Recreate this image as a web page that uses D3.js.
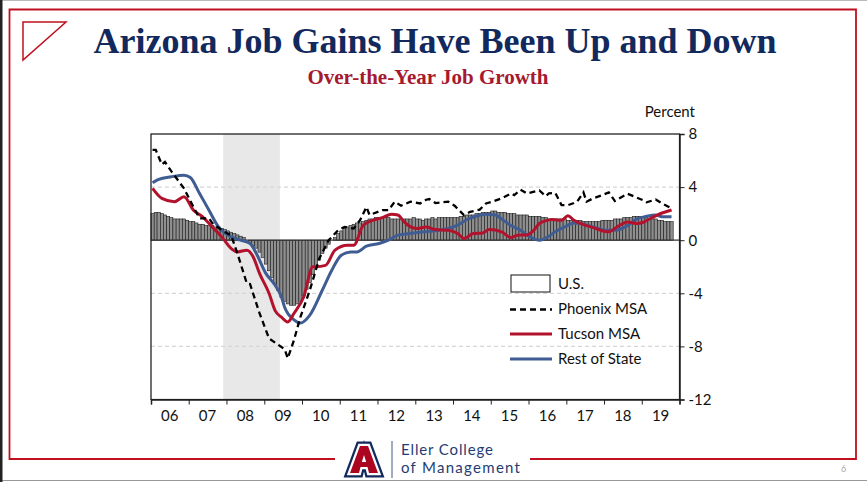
<!DOCTYPE html>
<html>
<head>
<meta charset="utf-8">
<title>Arizona Job Gains Have Been Up and Down</title>
<script src="https://cdn.jsdelivr.net/npm/d3@7"></script>
<style>
  body { margin: 0; background: #fff; }
  svg { display: block; }
  .axis text { font-family: Lato, "Open Sans", sans-serif; font-size: 15px; fill: #111; }
  .axis path, .axis line { stroke: #222; }
</style>
</head>
<body>
<svg id="chart" width="867" height="482"></svg>
<script>
// ---- data (over-the-year % job growth) ----
var firstMonth = "2006-01";
// U.S., monthly Jan 2006 - Oct 2019
var usGrowth = [
  2.0, 2.1, 2.1, 2.0, 1.9, 1.8, 1.7, 1.6, 1.6, 1.6, 1.6, 1.5,        // 2006
  1.4, 1.4, 1.3, 1.2, 1.2, 1.1, 1.1, 1.1, 1.0, 1.0, 0.9, 0.8,        // 2007
  0.7, 0.6, 0.5, 0.4, 0.3, 0.2, 0.0, -0.2, -0.4, -0.6, -0.9, -1.3,   // 2008
  -1.8, -2.3, -2.8, -3.3, -3.8, -4.3, -4.6, -4.8, -4.9, -4.9, -4.8, -4.6, // 2009
  -4.2, -3.7, -3.2, -2.6, -2.0, -1.5, -1.0, -0.6, -0.3, 0.0, 0.2, 0.5,    // 2010
  0.7, 0.9, 1.0, 1.1, 1.2, 1.3, 1.3, 1.4, 1.5, 1.6, 1.6, 1.7,        // 2011
  1.7, 1.7, 1.7, 1.7, 1.6, 1.6, 1.6, 1.6, 1.6, 1.6, 1.6, 1.7,        // 2012
  1.6, 1.6, 1.5, 1.6, 1.6, 1.7, 1.6, 1.7, 1.7, 1.7, 1.7, 1.7,        // 2013
  1.7, 1.7, 1.8, 1.8, 1.9, 1.9, 1.9, 2.0, 2.0, 2.1, 2.1, 2.1,        // 2014
  2.2, 2.2, 2.1, 2.1, 2.1, 2.0, 2.0, 2.0, 1.9, 1.9, 1.9, 1.9,        // 2015
  1.8, 1.8, 1.8, 1.8, 1.7, 1.7, 1.6, 1.6, 1.6, 1.6, 1.6, 1.6,        // 2016
  1.5, 1.5, 1.5, 1.5, 1.5, 1.4, 1.4, 1.4, 1.4, 1.4, 1.4, 1.5,        // 2017
  1.5, 1.5, 1.5, 1.6, 1.6, 1.6, 1.7, 1.7, 1.7, 1.8, 1.8, 1.8,        // 2018
  1.7, 1.7, 1.6, 1.6, 1.6, 1.5, 1.5, 1.4, 1.4, 1.4                   // 2019
];

var phoenix = [
  ["2006-01", 6.8], ["2006-02", 6.8], ["2006-04", 5.7], ["2006-05", 5.9], ["2006-07", 5.2],
  ["2006-11", 3.9], ["2007-02", 2.5], ["2007-04", 1.65], ["2007-07", 1.65], ["2007-08", 1.3],
  ["2007-11", 0.75], ["2008-02", 0.35], ["2008-04", -1.0], ["2008-07", -3.25], ["2008-08", -3.3],
  ["2008-11", -5.5], ["2009-02", -7.4], ["2009-06", -8.05], ["2009-07", -8.2], ["2009-08", -8.9],
  ["2009-10", -7.5], ["2009-12", -5.8], ["2010-03", -3.8], ["2010-04", -3.0], ["2010-06", -1.4],
  ["2010-09", 0.0], ["2010-12", 0.75], ["2011-02", 1.0], ["2011-05", 0.88], ["2011-07", 1.5],
  ["2011-09", 2.5], ["2011-10", 1.9], ["2012-02", 2.26], ["2012-04", 2.26], ["2012-06", 2.9],
  ["2012-08", 2.6], ["2012-11", 2.9], ["2013-02", 2.77], ["2013-04", 3.05], ["2013-05", 3.1],
  ["2013-07", 2.8], ["2013-11", 2.9], ["2014-01", 2.6], ["2014-04", 1.9], ["2014-06", 2.14],
  ["2014-09", 2.3], ["2014-11", 2.77], ["2015-01", 2.9], ["2015-04", 3.15], ["2015-05", 3.27],
  ["2015-07", 3.52], ["2015-08", 3.4], ["2015-10", 3.8], ["2015-12", 3.52], ["2016-02", 3.64],
  ["2016-04", 3.75], ["2016-06", 3.32], ["2016-07", 3.52], ["2016-09", 3.57], ["2016-11", 2.64],
  ["2017-01", 2.64], ["2017-03", 2.8], ["2017-04", 2.9], ["2017-06", 3.6], ["2017-07", 2.9],
  ["2017-09", 3.15], ["2017-12", 3.4], ["2018-02", 3.6], ["2018-04", 2.95], ["2018-08", 3.5],
  ["2018-11", 3.2], ["2019-01", 3.0], ["2019-02", 2.85], ["2019-05", 3.07], ["2019-07", 2.77],
  ["2019-10", 2.4]
];

var tucson = [
  ["2006-01", 3.9], ["2006-04", 3.15], ["2006-08", 2.9], ["2006-11", 3.27], ["2007-02", 2.26],
  ["2007-05", 1.76], ["2007-08", 1.0], ["2007-11", 0.25], ["2008-02", -0.63], ["2008-04", -0.88],
  ["2008-07", -0.75], ["2008-09", -1.26], ["2008-11", -2.5], ["2009-02", -4.0], ["2009-04", -5.3],
  ["2009-06", -5.8], ["2009-08", -6.16], ["2009-10", -5.5], ["2010-01", -4.3], ["2010-04", -2.0],
  ["2010-05", -2.0], ["2010-08", -1.9], ["2010-11", -0.75], ["2011-03", -0.38], ["2011-05", -0.38],
  ["2011-08", 1.13], ["2011-11", 1.5], ["2012-02", 1.7], ["2012-05", 1.96], ["2012-07", 1.9],
  ["2012-09", 1.38], ["2012-11", 1.0], ["2013-01", 0.88], ["2013-04", 1.0], ["2013-07", 0.8],
  ["2013-11", 0.75], ["2014-02", 0.5], ["2014-04", 0.13], ["2014-07", 0.5], ["2014-10", 0.55],
  ["2014-12", 0.8], ["2015-04", 0.63], ["2015-07", 0.2], ["2015-09", 0.38], ["2015-12", 0.4],
  ["2016-02", 0.7], ["2016-04", 1.26], ["2016-05", 1.38], ["2016-08", 1.56], ["2016-11", 1.5],
  ["2017-01", 1.85], ["2017-03", 1.5], ["2017-07", 1.1], ["2017-09", 0.95], ["2018-01", 0.65],
  ["2018-02", 0.63], ["2018-05", 1.05], ["2018-08", 1.38], ["2018-11", 1.26], ["2019-01", 1.35],
  ["2019-03", 1.6], ["2019-07", 2.05], ["2019-10", 2.28]
];

var restOfState = [
  ["2006-01", 4.33], ["2006-03", 4.58], ["2006-07", 4.78], ["2006-11", 4.9], ["2007-01", 4.73],
  ["2007-04", 3.52], ["2007-07", 2.26], ["2007-10", 1.0], ["2008-02", 0.25], ["2008-05", 0.0],
  ["2008-08", -0.25], ["2008-10", -1.0], ["2009-01", -2.5], ["2009-04", -3.4], ["2009-06", -4.28],
  ["2009-07", -5.03], ["2009-10", -6.0], ["2009-12", -6.24], ["2010-03", -5.66], ["2010-07", -3.77],
  ["2010-10", -2.26], ["2011-01", -1.13], ["2011-04", -0.88], ["2011-06", -0.88], ["2011-09", -0.45],
  ["2012-01", -0.25], ["2012-04", 0.0], ["2012-07", 0.38], ["2012-09", 0.45], ["2013-02", 0.6],
  ["2013-06", 0.7], ["2013-11", 0.88], ["2014-02", 1.13], ["2014-05", 1.56], ["2014-08", 1.82],
  ["2014-11", 1.96], ["2015-02", 1.9], ["2015-04", 1.6], ["2015-07", 1.1], ["2015-10", 0.75],
  ["2016-01", 0.25], ["2016-04", 0.0], ["2016-07", 0.3], ["2016-09", 0.63], ["2016-12", 1.0],
  ["2017-03", 1.3], ["2017-05", 1.25], ["2017-09", 1.0], ["2018-01", 0.75], ["2018-04", 0.75],
  ["2018-08", 1.1], ["2018-11", 1.6], ["2019-02", 1.8], ["2019-05", 1.9], ["2019-07", 1.76],
  ["2019-10", 1.76]
];

var recession = ["2007-12", "2009-06"];
var yearLabels = ["06", "07", "08", "09", "10", "11", "12", "13", "14", "15", "16", "17", "18", "19"];
var yTicks = [8, 4, 0, -4, -8, -12];
var gridValues = [4, -4, -8];
var legendNames = ["U.S.", "Phoenix MSA", "Tucson MSA", "Rest of State"];

// ---- drawing ----
var navy = "#12295d", uaRed = "#c0101f";
var lineRed = "#b3122d", lineBlue = "#3f5d93";

var svg = d3.select("#chart");
var parseMonth = d3.timeParse("%Y-%m");
var mid = function(m) { return d3.timeDay.offset(parseMonth(m), 15); };

var x = d3.scaleTime()
    .domain([new Date(2006, 0, 1), new Date(2020, 0, 1)])
    .range([151, 679.5]);
var y = d3.scaleLinear().domain([-12, 8]).range([399.5, 134]);

// slide frame
svg.append("line").attr("x1", 0).attr("x2", 867).attr("y1", 0.5).attr("y2", 0.5).attr("stroke", "#bbb");
svg.append("line").attr("x1", 0).attr("x2", 867).attr("y1", 480.5).attr("y2", 480.5).attr("stroke", "#999");
svg.append("rect").attr("x", 0).attr("y", 0).attr("width", 2.5).attr("height", 482).attr("fill", "#222");

var border = svg.append("g").attr("stroke", uaRed).attr("stroke-width", 1.8).attr("fill", "none");
border.append("path").attr("d", "M335,459 H9.5 V9.5 H856 V459 H530");
border.append("path").attr("d", "M23,22 H66 L23,60 Z").attr("stroke-width", 1.5);

// titles
svg.append("text").attr("x", 435).attr("y", 53)
    .attr("text-anchor", "middle")
    .style("font-family", "'Liberation Serif', 'Times New Roman', serif")
    .style("font-weight", "bold").style("font-size", "36px")
    .attr("fill", navy)
    .text("Arizona Job Gains Have Been Up and Down");
svg.append("text").attr("x", 428).attr("y", 84)
    .attr("text-anchor", "middle")
    .style("font-family", "'Liberation Serif', 'Times New Roman', serif")
    .style("font-weight", "bold").style("font-size", "21px")
    .attr("fill", "#a6192e")
    .text("Over-the-Year Job Growth");

svg.append("text").attr("x", 695).attr("y", 117)
    .attr("text-anchor", "end")
    .style("font-family", "Lato, sans-serif").style("font-size", "15px")
    .attr("fill", "#111")
    .text("Percent");

// recession shading
svg.append("rect")
    .attr("x", x(parseMonth(recession[0])))
    .attr("y", y(8))
    .attr("width", x(parseMonth(recession[1])) - x(parseMonth(recession[0])))
    .attr("height", y(-12) - y(8))
    .attr("fill", "#e8e8e8");

// grid
svg.append("g").selectAll("line")
  .data(gridValues)
  .enter().append("line")
    .attr("x1", x.range()[0]).attr("x2", x.range()[1])
    .attr("y1", function(d) { return y(d); }).attr("y2", function(d) { return y(d); })
    .attr("stroke", "#d6d6d6").attr("stroke-width", 1.3)
    .attr("stroke-dasharray", "4,3");

// U.S. bars
var start = parseMonth(firstMonth);
svg.append("g").selectAll("rect")
  .data(usGrowth)
  .enter().append("rect")
    .attr("x", function(d, i) { return x(d3.timeMonth.offset(start, i)); })
    .attr("width", function(d, i) { return x(d3.timeMonth.offset(start, i + 1)) - x(d3.timeMonth.offset(start, i)); })
    .attr("y", function(d) { return y(Math.max(0, d)); })
    .attr("height", function(d) { return Math.abs(y(d) - y(0)); })
    .attr("fill", "#8f8f8f")
    .attr("stroke", "#1c1c1c")
    .attr("stroke-width", 0.6);

// zero line
svg.append("line")
    .attr("x1", x.range()[0]).attr("x2", x.range()[1])
    .attr("y1", y(0)).attr("y2", y(0))
    .attr("stroke", "#333").attr("stroke-width", 1.3);

// lines
var smooth = d3.line()
    .x(function(d) { return x(mid(d[0])); })
    .y(function(d) { return y(d[1]); })
    .curve(d3.curveMonotoneX);
var jagged = d3.line()
    .x(function(d) { return x(mid(d[0])); })
    .y(function(d) { return y(d[1]); });

svg.append("path").datum(restOfState)
    .attr("d", smooth).attr("fill", "none")
    .attr("stroke", lineBlue).attr("stroke-width", 3);
svg.append("path").datum(tucson)
    .attr("d", smooth).attr("fill", "none")
    .attr("stroke", lineRed).attr("stroke-width", 3);
svg.append("path").datum(phoenix)
    .attr("d", jagged).attr("fill", "none")
    .attr("stroke", "#000").attr("stroke-width", 2.3)
    .attr("stroke-dasharray", "6,4");

// frame
svg.append("rect")
    .attr("x", x.range()[0]).attr("y", y(8))
    .attr("width", x.range()[1] - x.range()[0]).attr("height", y(-12) - y(8))
    .attr("fill", "none").attr("stroke", "#111").attr("stroke-width", 1.2);

// axes
svg.append("g")
    .attr("class", "axis")
    .attr("transform", "translate(" + x.range()[1] + ",0)")
    .call(d3.axisRight(y).tickValues(yTicks).tickSize(5).tickPadding(4)
        .tickFormat(function(d) { return String(d); }))
    .call(function(g) { g.select(".domain").attr("stroke-width", 1.5); });

var yearTicks = d3.range(2006, 2021).map(function(yr) { return new Date(yr, 0, 1); });
svg.append("g")
    .attr("class", "axis")
    .attr("transform", "translate(0," + y(-12) + ")")
    .call(d3.axisBottom(x).tickValues(yearTicks).tickSize(5).tickFormat(""))
    .call(function(g) { g.select(".domain").attr("stroke-width", 1.5); });

svg.append("g")
    .attr("class", "axis")
  .selectAll("text")
  .data(yearLabels)
  .enter().append("text")
    .attr("x", function(d, i) { return x(new Date(2006 + i, 6, 2)); })
    .attr("y", 421)
    .attr("text-anchor", "middle")
    .text(function(d) { return d; });

// legend
var legend = svg.append("g")
    .style("font-family", "Lato, sans-serif").style("font-size", "15px");
legend.append("rect").attr("x", 511).attr("y", 275).attr("width", 39).attr("height", 17)
    .attr("fill", "#fff").attr("stroke", "#111").attr("stroke-width", 1);
var legendLines = [
  { yy: 309.5, color: "#000", dash: "6,4", w: 2.3 },
  { yy: 334, color: lineRed, dash: null, w: 3 },
  { yy: 359, color: lineBlue, dash: null, w: 3 }
];
legend.selectAll("line.key")
  .data(legendLines)
  .enter().append("line")
    .attr("x1", 510).attr("x2", 552)
    .attr("y1", function(d) { return d.yy; }).attr("y2", function(d) { return d.yy; })
    .attr("stroke", function(d) { return d.color; })
    .attr("stroke-width", function(d) { return d.w; })
    .attr("stroke-dasharray", function(d) { return d.dash; });
legend.selectAll("text")
  .data(legendNames)
  .enter().append("text")
    .attr("x", 558)
    .attr("y", function(d, i) { return [289, 314, 339, 364][i]; })
    .attr("fill", "#111")
    .text(function(d) { return d; });

// footer logo
var logo = svg.append("g").attr("transform", "translate(345,442)");
var aPath = "M5,31 L15,4 L23,4 L33,31 L24,31 L22.5,25 L15.5,25 L14,31 Z M16.8,20 L21.2,20 L19,13 Z";
logo.append("path").attr("d", aPath).attr("fill", navy).attr("stroke", navy)
    .attr("stroke-width", 9).attr("stroke-linejoin", "miter").attr("fill-rule", "evenodd");
logo.append("path").attr("d", aPath).attr("fill", "#fff").attr("stroke", "#fff")
    .attr("stroke-width", 4.5).attr("stroke-linejoin", "miter").attr("fill-rule", "evenodd");
logo.append("path").attr("d", aPath).attr("fill", "#ab0520").attr("fill-rule", "evenodd");
svg.append("line").attr("x1", 392).attr("x2", 392).attr("y1", 441).attr("y2", 478)
    .attr("stroke", "#3b5a8c").attr("stroke-width", 1);
var eller = svg.append("g")
    .style("font-family", "Lato, sans-serif").style("font-size", "15px")
    .attr("fill", "#1f3d73");
eller.append("text").attr("x", 401).attr("y", 455)
    .attr("textLength", 92).attr("lengthAdjust", "spacing").text("Eller College");
eller.append("text").attr("x", 401).attr("y", 473)
    .attr("textLength", 119).attr("lengthAdjust", "spacing").text("of Management");

svg.append("text").attr("x", 841).attr("y", 472)
    .style("font-family", "Lato, sans-serif").style("font-size", "9px")
    .attr("fill", "#aaa").text("6");
</script>
</body>
</html>
